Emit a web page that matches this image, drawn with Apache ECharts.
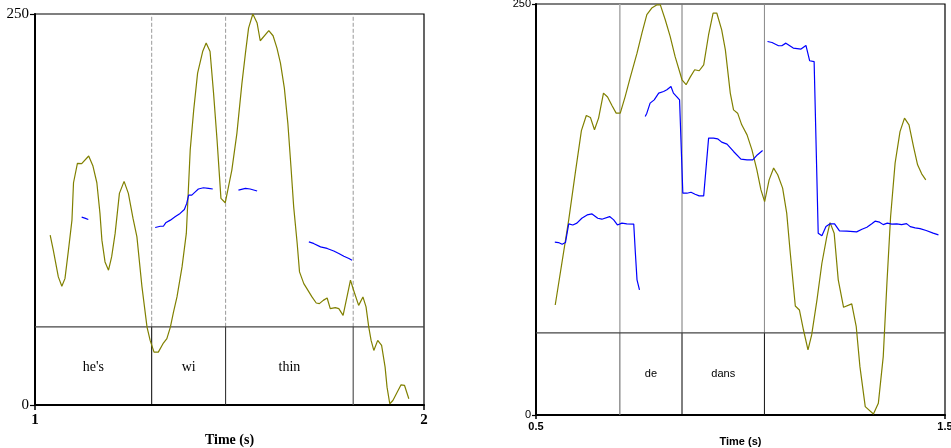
<!DOCTYPE html>
<html><head><meta charset="utf-8">
<script src="https://cdn.jsdelivr.net/npm/echarts@6/dist/echarts.min.js"></script>
<style>html,body{margin:0;padding:0;background:#fff}#c{width:951px;height:448px}</style>
</head><body><div id="c"></div>
<script>
// ---------- Left panel (English) ----------
const leftXRange = [1, 2];
const leftYRange = [0, 250];
const leftXTicks = [1, 2];
const leftYTicks = [0, 250];
const leftBoundaries = [1.30, 1.49, 1.818];
const leftTierEdges = [1, 1.30, 1.49, 1.818, 2];
const leftTierLabels = ["he's", "wi", "thin", ""];
const tierLine = 50;
const leftTextLevel = 24;
const rightTextLevel = 25;
const leftIntensity = [[1.039,108.6],[1.047,99.0],[1.060,81.9],[1.069,75.9],[1.077,80.8],[1.086,99.0],[1.095,118.2],[1.099,142.1],[1.109,154.5],[1.120,154.3],[1.138,159.2],[1.149,152.8],[1.159,142.1],[1.167,122.5],[1.172,105.4],[1.180,91.5],[1.189,86.2],[1.197,94.7],[1.206,109.7],[1.217,135.3],[1.229,143.0],[1.240,135.3],[1.252,119.3],[1.262,107.5],[1.275,75.5],[1.288,49.8],[1.296,41.3],[1.306,33.8],[1.317,33.8],[1.329,39.2],[1.339,42.4],[1.348,49.8],[1.356,59.4],[1.365,69.1],[1.378,88.3],[1.389,109.7],[1.399,163.0],[1.408,188.7],[1.418,212.2],[1.431,226.0],[1.440,231.4],[1.450,226.0],[1.459,199.4],[1.468,169.4],[1.478,132.1],[1.489,129.3],[1.506,150.2],[1.519,173.7],[1.532,205.8],[1.541,225.0],[1.549,241.0],[1.560,250.0],[1.571,244.2],[1.579,232.9],[1.601,239.3],[1.612,236.1],[1.622,228.2],[1.631,218.6],[1.641,202.6],[1.650,180.1],[1.658,152.3],[1.665,126.7],[1.674,103.3],[1.680,85.1],[1.691,77.6],[1.699,74.4],[1.712,69.1],[1.723,65.2],[1.731,64.8],[1.741,66.9],[1.751,68.4],[1.759,61.6],[1.772,62.3],[1.781,61.6],[1.792,57.3],[1.802,69.1],[1.811,79.8],[1.819,73.4],[1.832,63.7],[1.843,69.1],[1.851,62.7],[1.858,49.8],[1.864,41.3],[1.871,34.9],[1.881,41.3],[1.891,38.1],[1.900,24.2],[1.905,11.4],[1.912,0.8],[1.920,2.9],[1.931,8.2],[1.941,12.9],[1.950,12.5],[1.961,4.0]];
const leftPitchA = [[1.120,120.1],[1.128,119.5],[1.137,118.6]];
const leftPitchB = [[1.309,113.5],[1.322,114.3],[1.330,114.3],[1.336,116.5],[1.348,118.2],[1.360,120.3],[1.373,122.5],[1.384,125.0],[1.390,128.9],[1.395,134.2],[1.403,134.2],[1.412,136.3],[1.420,138.1],[1.433,138.9],[1.446,138.5],[1.457,138.1]];
const leftPitchC = [[1.523,137.4],[1.541,138.5],[1.553,138.1],[1.571,136.8]];
const leftPitchD = [[1.704,104.3],[1.716,103.3],[1.734,101.1],[1.751,100.1],[1.768,98.5],[1.781,96.9],[1.794,95.1],[1.807,93.7],[1.815,92.6]];

// ---------- Right panel (French) ----------
const rightXRange = [0.5, 1.5];
const rightYRange = [0, 250];
const rightXTicks = [0.5, 1.5];
const rightYTicks = [0, 250];
const rightBoundaries = [0.705, 0.857, 1.0585];
const rightTierEdges = [0.5, 0.705, 0.857, 1.0585, 1.5];
const rightTierLabels = ["", "de", "dans", ""];
const rightIntensity = [[0.547,66.9],[0.580,118.7],[0.596,147.1],[0.611,173.0],[0.623,182.2],[0.633,181.0],[0.643,173.5],[0.653,180.6],[0.665,195.8],[0.675,193.4],[0.686,188.1],[0.696,183.6],[0.706,183.6],[0.718,193.7],[0.730,204.9],[0.747,220.1],[0.759,232.3],[0.771,243.5],[0.783,247.5],[0.796,249.5],[0.804,249.5],[0.816,240.4],[0.828,230.3],[0.840,218.1],[0.857,203.9],[0.867,200.9],[0.877,205.5],[0.888,210.0],[0.899,209.4],[0.910,213.0],[0.922,231.3],[0.933,244.5],[0.942,244.5],[0.954,234.3],[0.963,222.1],[0.975,195.8],[0.983,185.6],[0.993,183.6],[1.003,176.5],[1.016,170.4],[1.028,161.3],[1.040,149.1],[1.050,136.9],[1.059,129.8],[1.070,143.0],[1.081,150.2],[1.091,146.1],[1.103,138.0],[1.113,122.8],[1.121,100.4],[1.134,66.3],[1.144,63.9],[1.154,51.7],[1.165,39.6],[1.174,48.7],[1.187,70.0],[1.199,92.3],[1.211,108.5],[1.219,117.0],[1.229,110.6],[1.239,82.2],[1.252,65.5],[1.272,67.6],[1.283,53.7],[1.292,29.4],[1.305,5.1],[1.325,0.6],[1.337,7.1],[1.349,35.5],[1.358,80.2],[1.367,120.7],[1.378,153.2],[1.390,172.4],[1.401,180.6],[1.412,176.5],[1.423,163.3],[1.433,152.2],[1.443,146.7],[1.453,143.0]];
const rightPitchA = [[0.546,105.1],[0.555,104.9],[0.564,103.9],[0.572,104.9],[0.580,116.3],[0.590,115.6],[0.600,116.7],[0.612,119.7],[0.625,121.7],[0.637,122.3],[0.651,119.7],[0.661,119.1],[0.680,120.7],[0.690,118.7],[0.699,115.6],[0.710,116.7],[0.722,116.3],[0.739,116.1],[0.743,98.4],[0.747,82.2],[0.753,76.1]];
const rightPitchB = [[0.767,181.6],[0.771,183.6],[0.779,189.7],[0.789,191.7],[0.800,195.8],[0.812,196.8],[0.820,197.8],[0.830,199.8],[0.836,195.8],[0.845,193.4],[0.851,191.7],[0.859,134.9],[0.869,134.9],[0.879,135.5],[0.889,134.3],[0.899,133.3],[0.910,133.3],[0.922,168.4],[0.934,168.4],[0.944,168.0],[0.954,166.0],[0.967,164.8],[0.983,160.3],[1.001,155.6],[1.016,155.2],[1.030,155.2],[1.041,158.2],[1.054,160.9]];
const rightPitchC = [[1.066,227.2],[1.077,226.6],[1.093,224.6],[1.101,224.6],[1.111,226.2],[1.129,223.2],[1.148,222.6],[1.160,224.8],[1.169,215.5],[1.180,215.0],[1.190,110.6],[1.199,109.0],[1.209,114.6],[1.219,116.3],[1.230,116.3],[1.242,112.0],[1.260,111.8],[1.284,111.4],[1.297,113.0],[1.309,114.2],[1.321,116.3],[1.329,117.9],[1.340,117.3],[1.349,115.8],[1.359,116.7],[1.370,116.1],[1.382,116.3],[1.394,115.8],[1.406,116.4],[1.415,114.6],[1.427,113.8],[1.439,113.4],[1.454,112.2],[1.471,110.6],[1.484,109.6]];

const OLIVE = '#808000', BLUE = '#0000ff';
const SERIF = 'Liberation Serif', SANS = 'Liberation Sans';

function joinSegs(segs){ const out=[]; segs.forEach((s,i)=>{ if(i) out.push(null); s.forEach(p=>out.push(p)); }); return out; }

function lineSeries(idx, data, color, width, type, z){
  return {type:'line', xAxisIndex:idx, yAxisIndex:idx, data:data, symbol:'none', silent:true,
    connectNulls:false, z:z||2, lineStyle:{color:color, width:width, type:type||'solid'}};
}

function panelSeries(idx, xr, yr, bounds, edges, labels, level, upperStyles, lowerStyles, font, fsize, intensity, pitchSegs){
  const s = [];
  bounds.forEach((b,i)=>{
    s.push(lineSeries(idx, [[b,tierLine],[b,yr[1]]], upperStyles[i].c, upperStyles[i].w, upperStyles[i].t, 1));
    s.push(lineSeries(idx, [[b,yr[0]],[b,tierLine]], lowerStyles[i].c, lowerStyles[i].w, 'solid', 1));
  });
  s.push(lineSeries(idx, [[xr[0],tierLine],[xr[1],tierLine]], '#444', 1.2, 'solid', 1));
  const lab = [];
  labels.forEach((t,i)=>{ if(t) lab.push({value:[(edges[i]+edges[i+1])/2, level], name:t}); });
  s.push({type:'scatter', xAxisIndex:idx, yAxisIndex:idx, data:lab, symbolSize:0, silent:true, z:3,
    itemStyle:{color:'#000', opacity:1},
    label:{show:true, position:'inside', formatter:p=>p.name, color:'#000', opacity:1,
      textBorderWidth:0, fontFamily:font, fontSize:fsize}});
  s.push(lineSeries(idx, intensity, OLIVE, 1.2, 'solid', 4));
  s.push(lineSeries(idx, joinSegs(pitchSegs), BLUE, 1.2, 'solid', 5));
  return s;
}

const chart = echarts.init(document.getElementById('c'), null, {renderer:'canvas'});
const option = {
  animation:false,
  backgroundColor:'#fff',
  grid:[
    {left:35, top:14, width:389, height:391, show:true, borderColor:'#000', borderWidth:1.2, backgroundColor:'transparent', containLabel:false, outerBoundsMode:'none'},
    {left:536, top:4, width:409, height:411, show:true, borderColor:'#000', borderWidth:1.2, backgroundColor:'transparent', containLabel:false, outerBoundsMode:'none'}
  ],
  xAxis:[
    {type:'value', gridIndex:0, min:leftXRange[0], max:leftXRange[1],
     name:'Time (s)', nameLocation:'middle', nameGap:22,
     nameTextStyle:{fontFamily:SERIF, fontSize:14, fontWeight:'bold', color:'#000'},
     axisLine:{show:true, lineStyle:{color:'#000', width:2}},
     axisTick:{show:true, length:5, customValues:leftXTicks, lineStyle:{color:'#000', width:1.5}},
     axisLabel:{customValues:leftXTicks, fontFamily:SERIF, fontSize:15, color:'#000', margin:8, fontWeight:'bold'},
     splitLine:{show:false}},
    {type:'value', gridIndex:1, min:rightXRange[0], max:rightXRange[1],
     name:'Time (s)', nameLocation:'middle', nameGap:16,
     nameTextStyle:{fontFamily:SANS, fontSize:11, fontWeight:'bold', color:'#000'},
     axisLine:{show:true, lineStyle:{color:'#000', width:2}},
     axisTick:{show:true, length:4, customValues:rightXTicks, lineStyle:{color:'#000', width:1.5}},
     axisLabel:{customValues:rightXTicks, fontFamily:SANS, fontSize:11, color:'#000', margin:6, fontWeight:'bold'},
     splitLine:{show:false}}
  ],
  yAxis:[
    {type:'value', gridIndex:0, min:leftYRange[0], max:leftYRange[1],
     axisLine:{show:true, lineStyle:{color:'#000', width:2}},
     axisTick:{show:true, length:5, customValues:leftYTicks, lineStyle:{color:'#000', width:1.2}},
     axisLabel:{customValues:leftYTicks, fontFamily:SERIF, fontSize:15, color:'#000', margin:6},
     splitLine:{show:false}},
    {type:'value', gridIndex:1, min:rightYRange[0], max:rightYRange[1],
     axisLine:{show:true, lineStyle:{color:'#000', width:2}},
     axisTick:{show:true, length:4, customValues:rightYTicks, lineStyle:{color:'#000', width:1.2}},
     axisLabel:{customValues:rightYTicks, fontFamily:SANS, fontSize:11, color:'#000', margin:5},
     splitLine:{show:false}}
  ],
  series:[].concat(
    panelSeries(0, leftXRange, leftYRange, leftBoundaries, leftTierEdges, leftTierLabels, leftTextLevel,
      [{c:'#999',w:1,t:[4,2]},{c:'#999',w:1,t:[4,2]},{c:'#999',w:1,t:[4,2]}],
      [{c:'#000',w:1},{c:'#222',w:1},{c:'#555',w:1.2}], SERIF, 14,
      leftIntensity, [leftPitchA, leftPitchB, leftPitchC, leftPitchD]),
    panelSeries(1, rightXRange, rightYRange, rightBoundaries, rightTierEdges, rightTierLabels, rightTextLevel,
      [{c:'#aaa',w:1.5,t:'solid'},{c:'#777',w:1,t:'solid'},{c:'#888',w:1,t:'solid'}],
      [{c:'#777',w:1.2},{c:'#000',w:1},{c:'#111',w:1}], SANS, 11,
      rightIntensity, [rightPitchA, rightPitchB, rightPitchC])
  )
};
chart.setOption(option);
</script>
</body></html>
